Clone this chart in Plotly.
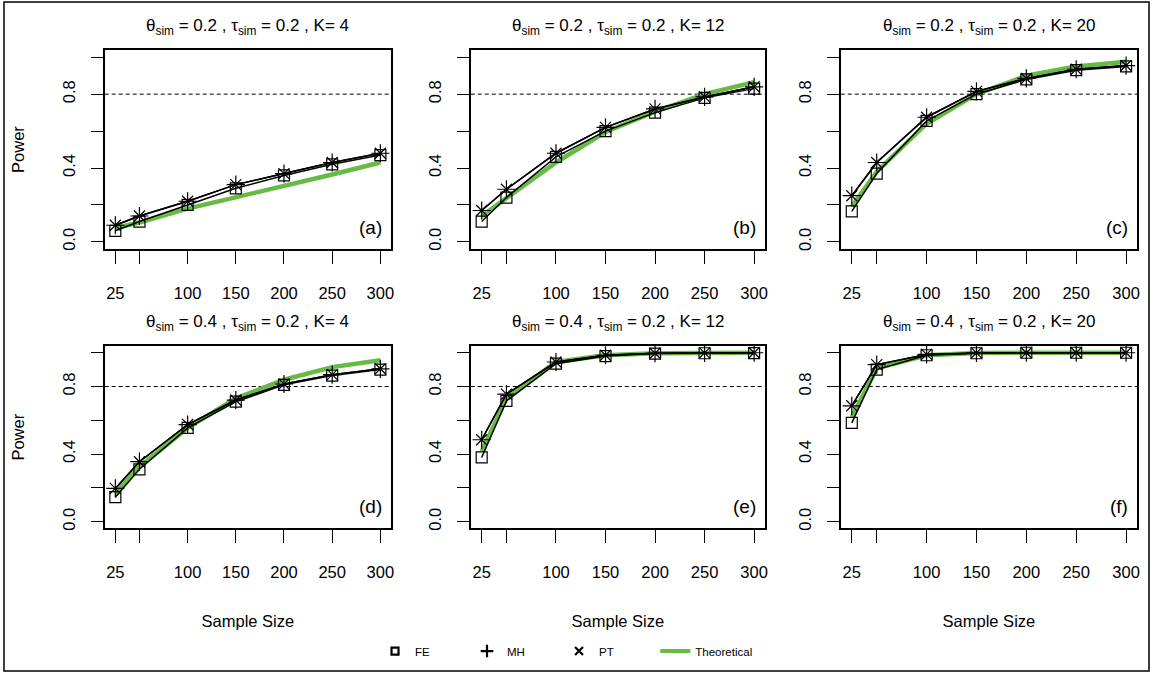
import plotly.graph_objects as go

# Sample sizes per study
sample_size = [25, 50, 100, 150, 200, 250, 300]
x_tickvals = [25, 100, 150, 200, 250, 300]
x_ticktext = ["25", "100", "150", "200", "250", "300"]
x_minor_tickvals = [50]
y_tickvals = [0.0, 0.4, 0.8]
y_ticktext = ["0.0", "0.4", "0.8"]
y_minor_tickvals = [0.2, 0.6, 1.0]

# Panel titles and letters
panel_titles = [
    "θ<sub>sim</sub> = 0.2 , τ<sub>sim</sub> = 0.2 , K= 4",
    "θ<sub>sim</sub> = 0.2 , τ<sub>sim</sub> = 0.2 , K= 12",
    "θ<sub>sim</sub> = 0.2 , τ<sub>sim</sub> = 0.2 , K= 20",
    "θ<sub>sim</sub> = 0.4 , τ<sub>sim</sub> = 0.2 , K= 4",
    "θ<sub>sim</sub> = 0.4 , τ<sub>sim</sub> = 0.2 , K= 12",
    "θ<sub>sim</sub> = 0.4 , τ<sub>sim</sub> = 0.2 , K= 20",
]
panel_letters = ["(a)", "(b)", "(c)", "(d)", "(e)", "(f)"]

# Empirical power: fixed effect (FE), Mantel-Haenszel (MH), Peto (PT), theoretical
fe_power = [
    [0.06, 0.11, 0.20, 0.29, 0.36, 0.42, 0.47],
    [0.11, 0.24, 0.46, 0.60, 0.70, 0.78, 0.83],
    [0.165, 0.37, 0.655, 0.80, 0.88, 0.93, 0.95],
    [0.145, 0.31, 0.555, 0.71, 0.81, 0.865, 0.90],
    [0.38, 0.715, 0.935, 0.98, 0.995, 0.997, 0.998],
    [0.585, 0.90, 0.985, 0.997, 1.0, 1.0, 1.0],
]
mh_power = [
    [0.09, 0.14, 0.22, 0.31, 0.37, 0.43, 0.48],
    [0.17, 0.285, 0.48, 0.62, 0.72, 0.785, 0.84],
    [0.25, 0.43, 0.675, 0.815, 0.885, 0.935, 0.955],
    [0.197, 0.355, 0.575, 0.72, 0.815, 0.87, 0.905],
    [0.485, 0.755, 0.945, 0.985, 0.997, 0.999, 1.0],
    [0.686, 0.93, 0.99, 0.999, 1.0, 1.0, 1.0],
]
pt_power = [
    [0.09, 0.14, 0.22, 0.31, 0.37, 0.43, 0.48],
    [0.17, 0.285, 0.48, 0.62, 0.72, 0.785, 0.84],
    [0.25, 0.43, 0.675, 0.815, 0.885, 0.935, 0.955],
    [0.197, 0.355, 0.575, 0.72, 0.815, 0.87, 0.905],
    [0.485, 0.755, 0.945, 0.985, 0.997, 0.999, 1.0],
    [0.686, 0.93, 0.99, 0.999, 1.0, 1.0, 1.0],
]
theoretical_power = [
    [0.075, 0.105, 0.18, 0.24, 0.30, 0.365, 0.43],
    [0.14, 0.235, 0.43, 0.595, 0.705, 0.80, 0.865],
    [0.19, 0.38, 0.64, 0.80, 0.90, 0.95, 0.975],
    [0.167, 0.325, 0.555, 0.73, 0.84, 0.915, 0.955],
    [0.415, 0.73, 0.945, 0.985, 0.997, 1.0, 1.0],
    [0.62, 0.907, 0.985, 0.998, 1.0, 1.0, 1.0],
]
target_power = 0.8

W, H = 1156, 676
FONT = "Liberation Sans, Arial, sans-serif"
GREEN = "#66BB44"

# Panel boxes in pixels (left, right) per column and (top, bottom) per row
cols_px = [(105, 392), (472, 767), (843, 1140)]
rows_px = [(50, 250), (347, 530)]

fig = go.Figure()
layout = dict(
    width=W, height=H,
    margin=dict(l=0, r=0, t=0, b=0),
    paper_bgcolor="white", plot_bgcolor="white",
    font=dict(family=FONT, size=16, color="black"),
    showlegend=True,
)
annotations = []
shapes = []

for i in range(6):
    r, c = divmod(i, 3)
    n = "" if i == 0 else str(i + 1)
    xa, ya = "x" + n, "y" + n
    x0, x1 = cols_px[c]
    t0, t1 = rows_px[r]
    xdom = [x0 / W, x1 / W]
    ydom = [1 - t1 / H, 1 - t0 / H]

    layout["xaxis" + n] = dict(
        domain=xdom, anchor=ya, range=[14, 311],
        tickvals=x_tickvals, ticktext=x_ticktext,
        ticks="outside", ticklen=13, tickwidth=1.3, tickcolor="black",
        minor=dict(tickvals=x_minor_tickvals, ticks="outside", ticklen=13,
                   tickwidth=1.3, tickcolor="black", showgrid=False),
        ticklabelstandoff=15,
        showline=True, linecolor="black", linewidth=1.5, mirror=True,
        showgrid=False, zeroline=False,
        tickfont=dict(size=16.5),
    )
    layout["yaxis" + n] = dict(
        domain=ydom, anchor=xa, range=[-0.04, 1.04],
        tickvals=y_tickvals, ticktext=y_ticktext, tickangle=-90,
        ticks="outside", ticklen=12, tickwidth=1.3, tickcolor="black",
        minor=dict(tickvals=y_minor_tickvals, ticks="outside", ticklen=12,
                   tickwidth=1.3, tickcolor="black", showgrid=False),
        ticklabelstandoff=9,
        showline=True, linecolor="black", linewidth=1.5, mirror=True,
        showgrid=False, zeroline=False,
        tickfont=dict(size=16.5),
    )
    if r == 1:
        layout["xaxis" + n]["title"] = dict(text="Sample Size", standoff=35,
                                            font=dict(size=16.5))
    if c == 0:
        layout["yaxis" + n]["title"] = dict(text="Power", standoff=32,
                                            font=dict(size=16.5))

    # target power reference line
    shapes.append(dict(type="line", xref=xa + " domain", yref=ya,
                       x0=0, x1=1, y0=target_power, y1=target_power,
                       line=dict(color="black", width=1, dash="4px,3px"),
                       layer="below"))

    # panel title
    annotations.append(dict(
        text=panel_titles[i], xref="paper", yref="paper",
        x=(xdom[0] + xdom[1]) / 2, y=1 - (t0 - 23) / H,
        xanchor="center", yanchor="middle", showarrow=False,
        font=dict(size=17),
    ))
    # panel letter
    annotations.append(dict(
        text=panel_letters[i], xref=xa + " domain", yref=ya + " domain",
        x=0.975, y=0.11 if r == 0 else 0.12, xanchor="right", yanchor="middle",
        showarrow=False, font=dict(size=19),
    ))

    fig.add_trace(go.Scatter(
        x=sample_size, y=theoretical_power[i], xaxis=xa, yaxis=ya,
        mode="lines", line=dict(color=GREEN, width=4.5), showlegend=False,
        hoverinfo="skip"))
    fig.add_trace(go.Scatter(
        x=sample_size, y=fe_power[i], xaxis=xa, yaxis=ya,
        mode="lines+markers", line=dict(color="black", width=1.5),
        marker=dict(symbol="square-open", size=11, color="black",
                    line=dict(width=1.2, color="black")),
        showlegend=False))
    fig.add_trace(go.Scatter(
        x=sample_size, y=mh_power[i], xaxis=xa, yaxis=ya,
        mode="lines+markers", line=dict(color="black", width=1.5),
        marker=dict(symbol="cross-thin-open", size=13, color="black",
                    line=dict(width=1.2, color="black")),
        showlegend=False))
    fig.add_trace(go.Scatter(
        x=sample_size, y=pt_power[i], xaxis=xa, yaxis=ya,
        mode="lines+markers", line=dict(color="black", width=1.5),
        marker=dict(symbol="x-thin-open", size=11, color="black",
                    line=dict(width=1.2, color="black")),
        showlegend=False))

# Legend entries: point estimators in one row, theoretical curve beside them
fig.add_trace(go.Scatter(x=[None], y=[None], mode="markers", name="FE",
                         legend="legend",
                         marker=dict(symbol="square-open", size=7, color="black",
                                     line=dict(width=2.2, color="black"))))
fig.add_trace(go.Scatter(x=[None], y=[None], mode="markers", name="MH",
                         legend="legend",
                         marker=dict(symbol="cross-thin-open", size=9, color="black",
                                     line=dict(width=2.2, color="black"))))
fig.add_trace(go.Scatter(x=[None], y=[None], mode="markers", name="PT",
                         legend="legend",
                         marker=dict(symbol="x-thin-open", size=8, color="black",
                                     line=dict(width=2.2, color="black"))))
fig.add_trace(go.Scatter(x=[None], y=[None], mode="lines", name="Theoretical",
                         legend="legend2",
                         line=dict(color=GREEN, width=4)))

legend_common = dict(
    orientation="h", yanchor="middle", y=1 - 653 / H,
    font=dict(size=11.5), bgcolor="rgba(0,0,0,0)",
    itemclick=False, itemdoubleclick=False,
)
layout["legend"] = dict(legend_common, x=376 / W, xanchor="left",
                        entrywidth=47, entrywidthmode="pixels")
layout["legend2"] = dict(legend_common, x=657 / W, xanchor="left")

# outer frame
shapes.append(dict(type="rect", xref="paper", yref="paper",
                   x0=4 / W, x1=1152 / W, y0=1 - 673 / H, y1=1 - 2 / H,
                   line=dict(color="black", width=1.5)))

layout["annotations"] = annotations
layout["shapes"] = shapes
fig.update_layout(**layout)
fig.write_html("out.html")
